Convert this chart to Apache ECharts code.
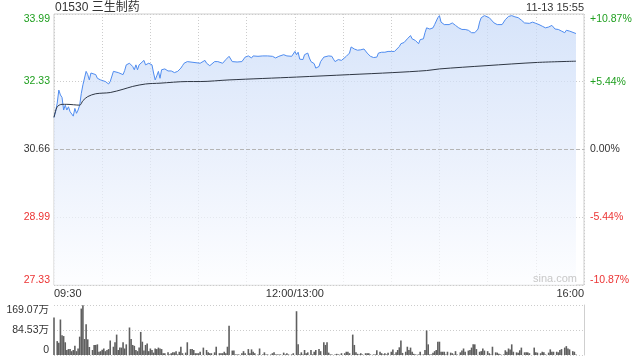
<!DOCTYPE html>
<html><head><meta charset="utf-8">
<script src="https://cdn.jsdelivr.net/npm/echarts@6/dist/echarts.min.js"></script>
<style>html,body{margin:0;padding:0;background:#fff}#c{width:640px;height:360px}</style>
</head><body><div id="c"></div>
<script>
const stockTitle = '01530 三生制药';
const stampText = '11-13 15:55';
const watermark = 'sina.com';
const prevClose = 30.66;
const priceTicks = [27.33, 28.99, 30.66, 32.33, 33.99];
const pctTicks = [-10.87, -5.44, 0, 5.44, 10.87];
const volTicks = [0, 84.53, 169.07];
const timeTicks = [0, 150, 330];
const timeLabels = ['09:30', '12:00/13:00', '16:00'];

// [minute index from 09:30 (lunch removed), price]
const price = [[0,31.45],[1,31.59],[2,31.80],[3,32.12],[4,32.00],[5,31.94],[6,31.63],[7,31.75],[8,31.63],[9,31.71],[10,31.59],[11,31.63],[12,31.48],[13,31.67],[14,31.55],[15,31.63],[16,31.75],[17,32.04],[18,32.25],[20,32.58],[21,32.50],[22,32.37],[23,32.54],[24,32.50],[26,32.50],[27,32.41],[29,32.37],[30,32.37],[32,32.33],[34,32.27],[35,32.33],[37,32.58],[38,32.59],[40,32.55],[41,32.58],[43,32.50],[44,32.60],[45,32.74],[47,32.78],[49,32.70],[50,32.62],[51,32.74],[52,32.62],[53,32.74],[54,32.72],[56,32.85],[57,32.74],[59,32.78],[60,32.77],[61,32.74],[62,32.54],[63,32.37],[64,32.47],[65,32.58],[66,32.41],[67,32.62],[69,32.64],[71,32.59],[73,32.59],[75,32.55],[77,32.58],[79,32.66],[80,32.72],[81,32.78],[83,32.82],
[91,32.78],[94,32.85],[95,32.78],[97,32.72],[100,32.82],[102,32.82],[105,32.78],[107,32.87],[109,32.95],[111,32.82],[114,32.81],[117,32.82],[119,32.93],[121,32.96],[123,32.91],[124,32.96],[127,32.95],[130,32.96],[133,32.96],[136,32.95],[138,32.91],[140,32.95],[143,32.99],[145,32.96],[148,32.95],[149,32.96],[150,33.07],[151,32.99],[152,33.05],[153,32.88],[155,32.87],[156,32.99],[158,33.03],[159,32.91],[160,32.82],[162,32.77],[163,32.66],[165,32.70],[166,32.82],[168,32.93],[171,32.96],[173,32.95],[174,32.88],[175,32.82],[177,32.87],[179,32.85],[180,32.88],[182,32.95],[184,33.03],[185,33.18],[187,33.13],[189,33.10],[191,33.11],[193,33.13],[195,33.03],[197,32.95],[199,32.92],[201,32.93],[202,33.03],[204,33.05],[206,33.05],[208,33.07],[210,33.07],[212,33.07],[213,33.11],[215,33.19],[216,33.26],[218,33.29],[220,33.38],[222,33.46],[223,33.38],[225,33.34],[227,33.26],[228,33.36],[230,33.38],[231,33.53],[232,33.65],[234,33.62],[236,33.65],[237,33.73],[239,33.90],[240,33.95],
[241,33.79],[243,33.73],[244,33.77],[246,33.73],[248,33.77],[250,33.71],[252,33.65],[254,33.61],[256,33.61],[258,33.59],[260,33.53],[262,33.53],[264,33.62],[265,33.79],[266,33.90],[268,33.95],[269,33.92],[271,33.90],[272,33.87],[274,33.77],[276,33.73],[277,33.76],[279,33.73],[280,33.77],[281,33.85],[283,33.93],[285,33.95],[287,33.92],[289,33.90],[291,33.84],[293,33.77],[294,33.76],[296,33.76],[298,33.79],[300,33.76],[302,33.73],[304,33.69],[306,33.65],[308,33.67],[310,33.71],[312,33.62],[314,33.61],[316,33.57],[318,33.53],[319,33.59],[321,33.57],[322,33.53],[325,33.51]];

const avgPrice = [[0,31.45],[2,31.71],[5,31.77],[8,31.77],[16,31.75],[18,31.86],[21,31.96],[26,32.03],[35,32.06],[43,32.14],[49,32.21],[57,32.27],[66,32.29],[83,32.33],[91,32.33],[109,32.37],[151,32.44],[184,32.50],[211,32.55],[232,32.60],[240,32.64],[269,32.72],[301,32.80],[325,32.83]];

// [minute index, volume in 万]
const volume = [[0,127],[2,47],[3,41],[4,120],[5,67],[6,64],[7,43],[8,17],[9,20],[10,20],[11,13],[12,17],[13,31],[14,13],[15,22],[16,62],[17,157],[18,168],[19,54],[20,104],[21,53],[22,27],[24,17],[25,34],[26,34],[27,36],[28,11],[29,13],[30,18],[31,22],[32,13],[33,17],[34,20],[35,49],[37,28],[38,43],[39,69],[40,17],[41,25],[42,25],[43,43],[44,22],[45,36],[47,93],[48,54],[49,34],[50,31],[51,17],[52,13],[53,25],[54,78],[55,45],[56,15],[57,34],[58,39],[59,13],[60,22],[61,17],[62,8],[63,22],[64,20],[65,25],[66,22],[67,20],[68,6],[69,6],[71,9],[72,2],[73,6],[74,9],[75,9],[76,13],[77,2],[78,11],[79,28],[80,6],
[82,8],[83,43],[85,20],[86,20],[87,17],[88,6],[89,6],[90,6],[91,11],[93,25],[95,17],[96,9],[97,6],[98,6],[100,9],[101,28],[103,6],[104,6],[105,6],[106,11],[107,6],[108,28],[109,99],[111,15],[112,15],[113,2],[114,2],[115,2],[117,6],[118,13],[119,6],[121,20],[122,6],[123,19],[124,11],[125,6],[127,2],[128,22],[130,2],[131,9],[132,2],[133,2],[135,2],[136,6],[137,9],[138,2],[139,2],[140,2],[141,2],[143,8],[144,2],[145,6],[146,2],[148,2],[149,6],[151,148],[152,36],[153,2],[154,9],[155,2],[156,17],[157,6],[158,9],[160,17],[161,2],[162,11],[163,17],[165,20],
[166,13],[168,43],[169,34],[170,43],[171,8],[172,2],[173,2],[175,2],[176,4],[177,2],[178,0.5],[179,6],[181,6],[182,11],[183,11],[184,6],[186,69],[187,34],[188,9],[189,4],[190,2],[191,6],[192,2],[194,6],[195,6],[196,6],[197,2],[199,2],[200,2],[201,16],[203,11],[204,6],[205,2],[206,6],[207,2],[208,8],[210,11],[211,19],[212,2],[213,9],[214,17],[215,26],[216,49],[217,7],[219,11],[220,28],[221,17],[222,25],[223,11],[224,4],[225,2],[226,0.5],[227,2],[228,11],[229,0.5],[230,2],[231,17],[232,83],[233,36],[234,2],[235,2],[236,8],[237,13],[238,17],[239,45],[240,45],[241,11],[242,11],[243,11],[244,2],[245,11],[247,8],[248,6],
[249,2],[250,13],[251,2],[253,9],[254,15],[255,22],[256,11],[258,15],[259,17],[260,25],[261,36],[262,36],[263,20],[265,11],[266,13],[267,22],[268,15],[270,13],[271,6],[272,2],[273,28],[275,9],[276,8],[277,4],[278,2],[280,2],[281,16],[282,11],[283,22],[284,19],[285,36],[286,11],[288,9],[289,8],[290,16],[291,25],[293,9],[294,9],[295,9],[296,6],[299,25],[300,9],[301,8],[303,6],[304,11],[305,9],[306,2],[308,8],[309,19],[310,11],[311,11],[313,11],[314,9],[315,17],[316,20],[318,25],[319,30],[320,22],[321,19],[323,13],[324,11],[325,2]];

const FONT = 'Arial, "Liberation Sans", "Noto Sans CJK SC", sans-serif';
const GREEN = '#1f9f1f', RED = '#ec3434', GRAY = '#333';
const colorOf = v => { v = parseFloat(v); return v > 0.0001 ? GREEN : (v < -0.0001 ? RED : GRAY); };

const chart = echarts.init(document.getElementById('c'), null, {renderer: 'canvas'});
chart.setOption({
  animation: false,
  backgroundColor: '#fff',
  textStyle: {fontFamily: FONT},
  title: [
    {text: stockTitle, left: 55, top: 1, padding: 0, textStyle: {fontSize: 12, fontWeight: 'normal', color: '#333', fontFamily: FONT, lineHeight: 13}},
    {text: stampText, right: 56, top: 2, padding: 0, textStyle: {fontSize: 11, fontWeight: 'normal', color: '#333', fontFamily: FONT, lineHeight: 12}},
    {text: watermark, left: 533, top: 273, padding: 0, textStyle: {fontSize: 11, fontWeight: 'normal', color: '#c8c8c8', fontFamily: FONT}}
  ],
  grid: [
    {left: 54, right: 56, top: 14, height: 271, show: true, borderColor: '#cfcfcf', borderWidth: 1, backgroundColor: 'transparent'},
    {left: 54, right: 56, top: 305, height: 50}
  ],
  xAxis: [
    {type: 'value', gridIndex: 0, min: 0, max: 330, interval: 30,
     axisLine: {show: false}, axisTick: {show: false},
     splitLine: {show: true, lineStyle: {color: '#cccccc', type: [1, 2]}},
     axisLabel: {show: true, margin: 3, fontSize: 11, color: '#333', fontFamily: FONT,
       alignMinLabel: 'left', alignMaxLabel: 'right',
       customValues: timeTicks,
       formatter: v => { const i = timeTicks.indexOf(Math.round(v)); return i >= 0 ? timeLabels[i] : ''; }}},
    {type: 'value', gridIndex: 1, min: 0, max: 330,
     axisLine: {show: false}, axisTick: {show: false}, splitLine: {show: false}, axisLabel: {show: false}}
  ],
  yAxis: [
    {type: 'value', gridIndex: 0, position: 'left', min: priceTicks[0], max: priceTicks[4],
     axisLine: {show: false},
     axisTick: {show: false, customValues: priceTicks},
     splitLine: {show: true, lineStyle: {color: '#cccccc', type: [1, 2]}},
     axisLabel: {customValues: priceTicks, margin: 4, fontSize: 10.5, fontFamily: FONT,
       verticalAlignMaxLabel: 'top', verticalAlignMinLabel: 'bottom',
       formatter: v => Number(v).toFixed(2),
       color: v => colorOf(parseFloat(v) - prevClose)}},
    {type: 'value', gridIndex: 0, position: 'right', min: pctTicks[0], max: pctTicks[4],
     axisLine: {show: false},
     axisTick: {show: false, customValues: pctTicks},
     splitLine: {show: false},
     axisLabel: {customValues: pctTicks, margin: 6, fontSize: 10.5, fontFamily: FONT,
       verticalAlignMaxLabel: 'top', verticalAlignMinLabel: 'bottom',
       formatter: v => (v > 0 ? '+' : '') + Number(v).toFixed(2) + '%',
       color: v => colorOf(v)}},
    {type: 'value', gridIndex: 1, position: 'left', min: volTicks[0], max: volTicks[2],
     axisLine: {show: false},
     axisTick: {show: false, customValues: volTicks},
     splitLine: {show: true, lineStyle: {color: '#cccccc', type: [1, 2]}},
     axisLabel: {customValues: volTicks, margin: 5, fontSize: 10.5, color: '#333', fontFamily: FONT,
       verticalAlignMaxLabel: 'top', verticalAlignMinLabel: 'bottom',
       formatter: v => Number(v) === 0 ? '0' : Number(v).toFixed(2) + '万'}},
    {type: 'value', gridIndex: 1, position: 'right', min: 0, max: 1,
     axisLine: {show: true, lineStyle: {color: '#cfcfcf'}},
     axisTick: {show: false}, splitLine: {show: false}, axisLabel: {show: false}}
  ],
  series: [
    {type: 'line', xAxisIndex: 0, yAxisIndex: 0, data: price, showSymbol: false, symbol: 'none',
     lineStyle: {color: '#4f8cf0', width: 1},
     areaStyle: {origin: 'start', color: new echarts.graphic.LinearGradient(0, 0, 0, 1, [
       {offset: 0, color: '#c6d9f8'}, {offset: 0.5, color: '#e1eafb'}, {offset: 1, color: '#fcfdff'}])},
     markLine: {silent: true, symbol: 'none', label: {show: false},
       lineStyle: {color: '#b5b5b5', type: [4, 2], width: 1},
       data: [{yAxis: prevClose}]},
     z: 3},
    {type: 'line', xAxisIndex: 0, yAxisIndex: 0, data: avgPrice, showSymbol: false, symbol: 'none',
     smooth: 0.3, lineStyle: {color: '#2f3744', width: 1}, z: 4},
    {type: 'bar', xAxisIndex: 1, yAxisIndex: 2, data: volume, barWidth: 1.6,
     itemStyle: {color: '#5f5f5f'}}
  ]
});
</script></body></html>
